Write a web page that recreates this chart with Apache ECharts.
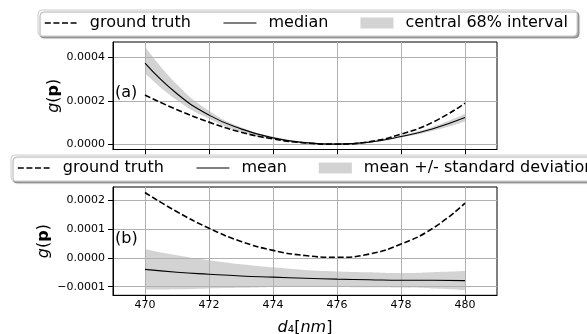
<!DOCTYPE html>
<html>
<head>
<meta charset="utf-8">
<script src="https://cdn.jsdelivr.net/npm/echarts@6/dist/echarts.min.js"></script>
<style>
html, body { margin: 0; padding: 0; background: #fff; }
#chart { width: 587px; height: 334px; }
</style>
</head>
<body>
<div id="chart"></div>
<script>
// d4 [nm]
const xs = [470, 471, 472, 473, 474, 475, 476, 477, 478, 479, 480]
// ground truth, same curve in both panels
const groundTruth = [0.000227, 0.000160, 0.000103, 0.000057, 0.000026, 0.000008, 0.000002, 0.000013, 0.000048, 0.000103, 0.000190]
// (a) median and central 68% interval
const median = [0.000373, 0.000233, 0.000135, 0.000072, 0.000031, 0.000009, 0.000002, 0.000011, 0.000037, 0.000073, 0.000124]
const lower68 = [0.000327, 0.000203, 0.000118, 0.000058, 0.000025, 0.000006, 0.000000, 0.000008, 0.000032, 0.000063, 0.000106]
const upper68 = [0.000449, 0.000275, 0.000155, 0.000080, 0.000037, 0.000013, 0.000005, 0.000015, 0.000043, 0.000082, 0.000141]
// (b) mean and standard deviation
const mean = [-0.000040, -0.000050, -0.000057, -0.000063, -0.000067, -0.000071, -0.000074, -0.000076, -0.000078, -0.000078, -0.000079]
const stdDev = [0.000070, 0.000059, 0.000049, 0.000041, 0.000034, 0.000029, 0.000027, 0.000026, 0.000025, 0.000028, 0.000033]
// ticks
const xTicks = [470, 472, 474, 476, 478, 480]
const yTicksA = [0, 0.0002, 0.0004]
const yTicksB = [-0.0001, 0, 0.0001, 0.0002]

const FONT = 'DejaVu Sans'
const pairs = ys => xs.map((x, i) => [x, ys[i]])
// y first so that the stack runs on y (encode maps it back)
const bandPairs = ys => xs.map((x, i) => [ys[i], x])
const fmtY = v => v.toFixed(4).replace('-', '\u2212')

const legendBase = {
    orient: 'horizontal',
    selectedMode: false,
    itemWidth: 33,
    itemHeight: 11,
    itemGap: 32,
    padding: [5, 9, 5, 6],
    backgroundColor: '#fff',
    borderColor: '#cccccc',
    borderWidth: 1,
    borderRadius: 4,
    shadowColor: 'rgba(0,0,0,0.35)',
    shadowBlur: 1,
    shadowOffsetX: 2,
    shadowOffsetY: 2,
    textStyle: { fontFamily: FONT, fontSize: 16, color: '#000', padding: [0, 0, 0, 7] }
}
const dashedItem = name => ({
    name, itemStyle: { color: 'rgba(0,0,0,0)', borderWidth: 0 },
    lineStyle: { color: '#000', width: 1.6, type: [6, 2.6] }
})
const solidItem = name => ({
    name, itemStyle: { color: 'rgba(0,0,0,0)', borderWidth: 0 },
    lineStyle: { color: '#000', width: 1.1 }
})
const patchItem = name => ({ name, icon: 'rect', itemStyle: { color: '#d3d3d3', borderWidth: 0 } })

const xAxisBase = {
    type: 'value',
    min: 469,
    max: 481,
    splitNumber: 6,
    axisLine: { show: true, onZero: false, lineStyle: { color: '#000', width: 1 } },
    axisTick: { show: true, inside: false, length: 5, customValues: xTicks, lineStyle: { color: '#000' } },
    splitLine: { show: true, lineStyle: { color: '#b0b0b0', width: 1 } }
}

const yAxisBase = {
    type: 'value',
    nameLocation: 'middle',
    nameMoveOverlap: false,
    nameTextStyle: {
        fontFamily: FONT, fontSize: 16, color: '#000',
        rich: {
            i: { fontFamily: FONT, fontSize: 16, fontStyle: 'italic', color: '#000' },
            b: { fontFamily: FONT, fontSize: 16, fontWeight: 'bold', color: '#000' }
        }
    },
    name: '{i|g}({b|p})',
    axisLine: { show: true, onZero: false, lineStyle: { color: '#000', width: 1 } },
    axisTick: { show: true, inside: false, length: 5, lineStyle: { color: '#000' } },
    axisLabel: { fontFamily: FONT, fontSize: 11, color: '#000', margin: 8, formatter: fmtY },
    splitLine: { show: true, lineStyle: { color: '#b0b0b0', width: 1 } }
}

const lineBase = { type: 'line', symbol: 'circle', showSymbol: false, smooth: true, silent: true }
const bandBase = Object.assign({}, lineBase, {
    stackStrategy: 'all', z: -1, encode: { x: 1, y: 0 },
    lineStyle: { opacity: 0, width: 0 }
})

const option = {
    animation: false,
    backgroundColor: '#fff',
    grid: [
        { left: 113, right: 90, top: 42, height: 107.5, show: true, borderColor: '#000', borderWidth: 1, outerBoundsMode: 'none' },
        { left: 113, right: 90, top: 187, height: 108.3, show: true, borderColor: '#000', borderWidth: 1, outerBoundsMode: 'none' }
    ],
    legend: [
        Object.assign({}, legendBase, {
            left: 38, top: 10,
            data: [dashedItem('ground truth'), solidItem('median'), patchItem('central 68% interval')]
        }),
        Object.assign({}, legendBase, {
            left: 11, top: 155, width: 700,
            data: [dashedItem('ground truth'), solidItem('mean'), patchItem('mean +/- standard deviation')]
        })
    ],
    xAxis: [
        Object.assign({}, xAxisBase, { gridIndex: 0, axisLabel: { show: false } }),
        Object.assign({}, xAxisBase, {
            gridIndex: 1,
            axisLabel: { show: true, customValues: xTicks, fontFamily: FONT, fontSize: 11, color: '#000', margin: 4 },
            name: '{i|d}\u2084[{i|nm}]',
            nameLocation: 'middle',
            nameGap: 25,
            nameMoveOverlap: false,
            nameTextStyle: {
                fontFamily: FONT, fontSize: 16, color: '#000',
                rich: { i: { fontFamily: FONT, fontSize: 16, fontStyle: 'italic', color: '#000' } }
            }
        })
    ],
    yAxis: [
        Object.assign({}, yAxisBase, {
            gridIndex: 0, min: -0.0000224, max: 0.00047, splitNumber: 2, nameGap: 51,
            axisTick: Object.assign({}, yAxisBase.axisTick, { customValues: yTicksA }),
            axisLabel: Object.assign({}, yAxisBase.axisLabel, { customValues: yTicksA })
        }),
        Object.assign({}, yAxisBase, {
            gridIndex: 1, min: -0.00013, max: 0.000246, splitNumber: 4, nameGap: 61,
            axisTick: Object.assign({}, yAxisBase.axisTick, { customValues: yTicksB }),
            axisLabel: Object.assign({}, yAxisBase.axisLabel, { customValues: yTicksB })
        })
    ],
    graphic: [
        { type: 'text', left: 115, top: 85, style: { text: '(a)', font: '16px "DejaVu Sans"', fill: '#000' } },
        { type: 'text', left: 115, top: 231, style: { text: '(b)', font: '16px "DejaVu Sans"', fill: '#000' } }
    ],
    series: [
        // (a) 68% band
        Object.assign({}, bandBase, {
            name: 'bandLowA', xAxisIndex: 0, yAxisIndex: 0, stack: 'A',
            data: bandPairs(lower68)
        }),
        Object.assign({}, bandBase, {
            name: 'central 68% interval', xAxisIndex: 0, yAxisIndex: 0, stack: 'A',
            itemStyle: { color: '#d3d3d3' },
            areaStyle: { color: '#d3d3d3', opacity: 1 },
            data: bandPairs(upper68.map((u, i) => u - lower68[i]))
        }),
        Object.assign({}, lineBase, {
            name: 'ground truth', xAxisIndex: 0, yAxisIndex: 0,
            itemStyle: { color: '#000' },
            lineStyle: { color: '#000', width: 1.6, type: [6, 2.6] },
            data: pairs(groundTruth)
        }),
        Object.assign({}, lineBase, {
            name: 'median', xAxisIndex: 0, yAxisIndex: 0,
            itemStyle: { color: '#000' },
            lineStyle: { color: '#000', width: 1.1 },
            data: pairs(median)
        }),
        // (b) mean +/- std band
        Object.assign({}, bandBase, {
            name: 'bandLowB', xAxisIndex: 1, yAxisIndex: 1, stack: 'B',
            data: bandPairs(mean.map((m, i) => m - stdDev[i]))
        }),
        Object.assign({}, bandBase, {
            name: 'mean +/- standard deviation', xAxisIndex: 1, yAxisIndex: 1, stack: 'B',
            itemStyle: { color: '#d3d3d3' },
            areaStyle: { color: '#d3d3d3', opacity: 1 },
            data: bandPairs(stdDev.map(s => 2 * s))
        }),
        Object.assign({}, lineBase, {
            name: 'ground truth', xAxisIndex: 1, yAxisIndex: 1,
            itemStyle: { color: '#000' },
            lineStyle: { color: '#000', width: 1.6, type: [6, 2.6] },
            data: pairs(groundTruth)
        }),
        Object.assign({}, lineBase, {
            name: 'mean', xAxisIndex: 1, yAxisIndex: 1,
            itemStyle: { color: '#000' },
            lineStyle: { color: '#000', width: 1.1 },
            data: pairs(mean)
        })
    ]
}

const myChart = echarts.init(document.getElementById('chart'), null, { renderer: 'canvas' })
myChart.setOption(option)
</script>
</body>
</html>
